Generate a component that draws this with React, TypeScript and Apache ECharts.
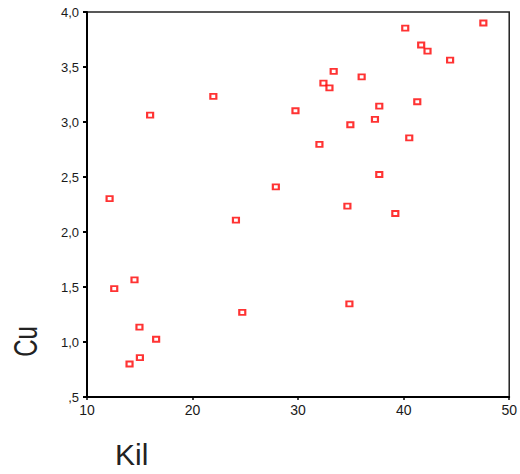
import React, { useEffect, useRef } from "react";
import * as echarts from "echarts";

const kil = [
  47.55, 40.15, 41.66, 42.26, 44.4, 33.37, 36.02, 32.4, 32.97, 21.97, 37.69,
  41.29, 15.98, 29.75, 34.95, 37.28, 40.53, 32.02, 37.69, 27.89, 34.67, 39.21,
  24.11, 12.14, 12.58, 14.5, 34.86, 24.71, 14.97, 16.55, 15.01, 14.03,
];
const cu = [
  3.9, 3.854, 3.7, 3.645, 3.563, 3.46, 3.41, 3.354, 3.311, 3.233, 3.144, 3.184,
  3.063, 3.102, 2.975, 3.024, 2.856, 2.796, 2.523, 2.41, 2.235, 2.168, 2.108,
  2.303, 1.486, 1.564, 1.346, 1.27, 1.136, 1.025, 0.858, 0.8,
];
const yTicks = [0.5, 1.0, 1.5, 2.0, 2.5, 3.0, 3.5, 4.0];
const yTickLabels = [",5", "1,0", "1,5", "2,0", "2,5", "3,0", "3,5", "4,0"];
const xTickLabels = ["10", "20", "30", "40", "50"];
const xTicks = [10, 20, 30, 40, 50];

export default function App() {
  const ref = useRef<HTMLDivElement>(null);
  useEffect(() => {
    document.body.style.margin = "0";
    const chart = echarts.init(ref.current!, undefined, { renderer: "svg" });
    const font = "'Liberation Sans', Arial, sans-serif";
    chart.setOption({
      animation: false,
      backgroundColor: "#ffffff",
      grid: {
        left: 87,
        right: 9,
        top: 12,
        bottom: 77,
        show: true,
        borderColor: "#222",
        borderWidth: 1.5,
        backgroundColor: "transparent",
      },
      xAxis: {
        type: "value",
        min: 10,
        max: 50,
        interval: 10,
        axisLine: { show: true, onZero: false, lineStyle: { color: "#000", width: 2 } },
        axisTick: { show: true, length: 3, lineStyle: { color: "#000", width: 1.5 } },
        splitLine: { show: false },
        axisLabel: {
          color: "#1a1a1a",
          fontFamily: font,
          fontSize: 14,
          margin: 6,
          formatter: (v: number) => {
            const i = xTicks.indexOf(v);
            return i >= 0 ? xTickLabels[i] : "";
          },
        },
      },
      yAxis: {
        type: "value",
        min: 0.5,
        max: 4.0,
        interval: 0.5,
        axisLine: { show: true, onZero: false, lineStyle: { color: "#000", width: 2 } },
        axisTick: { show: true, length: 4, lineStyle: { color: "#000", width: 2 } },
        splitLine: { show: false },
        axisLabel: {
          color: "#1a1a1a",
          fontFamily: font,
          fontSize: 13,
          margin: 8,
          formatter: (v: number) => {
            const i = yTicks.findIndex((t) => Math.abs(t - v) < 1e-6);
            return i >= 0 ? yTickLabels[i] : "";
          },
        },
      },
      graphic: [
        {
          type: "text",
          x: 115,
          y: 454,
          style: {
            text: "Kil",
            fontFamily: font,
            fontSize: 30,
            fill: "#222",
            align: "left",
            verticalAlign: "middle",
          },
        },
        {
          type: "text",
          x: 25,
          y: 341.5,
          rotation: Math.PI / 2,
          scaleY: 1.4,
          style: {
            text: "Cu",
            fontFamily: font,
            fontSize: 24,
            fill: "#222",
            align: "center",
            verticalAlign: "middle",
          },
        },
      ],
      series: [
        {
          type: "scatter",
          data: kil.map((x, i) => [x, cu[i]]),
          symbol: "rect",
          symbolSize: [6, 5],
          itemStyle: { color: "#ffffff", borderColor: "#ff0000", borderWidth: 2 },
        },
      ],
    });
    return () => chart.dispose();
  }, []);
  return <div ref={ref} style={{ width: 520, height: 474 }} />;
}
